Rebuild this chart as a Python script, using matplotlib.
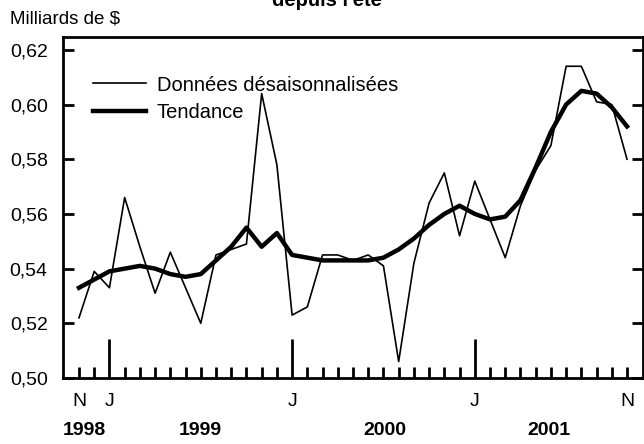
import matplotlib
matplotlib.use("Agg")
import matplotlib.pyplot as plt
import matplotlib.transforms as mtransforms

# monthly values, Nov 1998 .. Nov 2001 (billions of $)
raw = [0.522, 0.539, 0.533, 0.566, 0.548, 0.531, 0.546, 0.533, 0.520, 0.545,
       0.547, 0.549, 0.604, 0.578, 0.523, 0.526, 0.545, 0.545, 0.543, 0.545,
       0.541, 0.506, 0.542, 0.564, 0.575, 0.552, 0.572, 0.558, 0.544, 0.563,
       0.576, 0.585, 0.614, 0.614, 0.601, 0.600, 0.580]
trend = [0.533, 0.536, 0.539, 0.540, 0.541, 0.540, 0.538, 0.537, 0.538, 0.543,
         0.548, 0.555, 0.548, 0.553, 0.545, 0.544, 0.543, 0.543, 0.543, 0.543,
         0.544, 0.547, 0.551, 0.556, 0.560, 0.563, 0.560, 0.558, 0.559, 0.565,
         0.577, 0.590, 0.600, 0.605, 0.604, 0.599, 0.592]
month_labels = {0: "N", 2: "J", 14: "J", 26: "J", 36: "N"}
year_labels = {"1998": 0.36, "1999": 8.0, "2000": 20.1, "2001": 30.9}
yticks = [0.50, 0.52, 0.54, 0.56, 0.58, 0.60, 0.62]

plt.rcParams["font.family"] = ["Liberation Sans", "DejaVu Sans"]

fig = plt.figure(figsize=(6.44, 4.44), dpi=100)
ax = fig.add_axes([63 / 644, 66 / 444, 580 / 644, 341 / 444])

x = list(range(len(raw)))
ax.plot(x, raw, color="black", lw=1.2, label="Données désaisonnalisées")
ax.plot(x, trend, color="black", lw=3.2, label="Tendance")

ax.set_xlim(-1.05, 37.05)
ax.set_ylim(0.50, 0.6247)

for s in ax.spines.values():
    s.set_linewidth(2.0)

ax.set_yticks(yticks)
ax.set_yticklabels([f"{v:.2f}".replace(".", ",") for v in yticks], fontsize=14)
ax.tick_params(axis="y", direction="in", length=8, width=2, left=True, right=True, pad=11)

majors = [k for k, v in month_labels.items() if v == "J"]
ax.set_xticks(majors)
ax.set_xticklabels(["J"] * len(majors), fontsize=14)
ax.set_xticks(x, minor=True)
ax.set_xticklabels([month_labels[i] if (i in month_labels and i not in majors) else "" for i in x],
                   minor=True, fontsize=14)
ax.tick_params(axis="x", which="major", direction="in", length=28, width=2, pad=11)
ax.tick_params(axis="x", which="minor", direction="in", length=8, width=2, pad=11)

trans = mtransforms.blended_transform_factory(ax.transData, ax.transAxes)
for lab, xp in year_labels.items():
    ax.text(xp, -0.154, lab, transform=trans, ha="center", va="center",
            fontsize=14, fontweight="bold")

fig.text(10 / 644, 1 - 19 / 444, "Milliards de $", fontsize=13.5, va="center", ha="left")
fig.text(327 / 644, 1 - 6 / 444, "depuis l'été", fontsize=14.5, fontweight="bold",
         ha="center", va="baseline")

ax.legend(loc="upper left", bbox_to_anchor=(0.052, 0.887), frameon=False, fontsize=14.5,
          handlelength=2.6, handletextpad=0.55, labelspacing=0.4, borderaxespad=0,
          borderpad=0)

fig.savefig("out.png", dpi=100)
